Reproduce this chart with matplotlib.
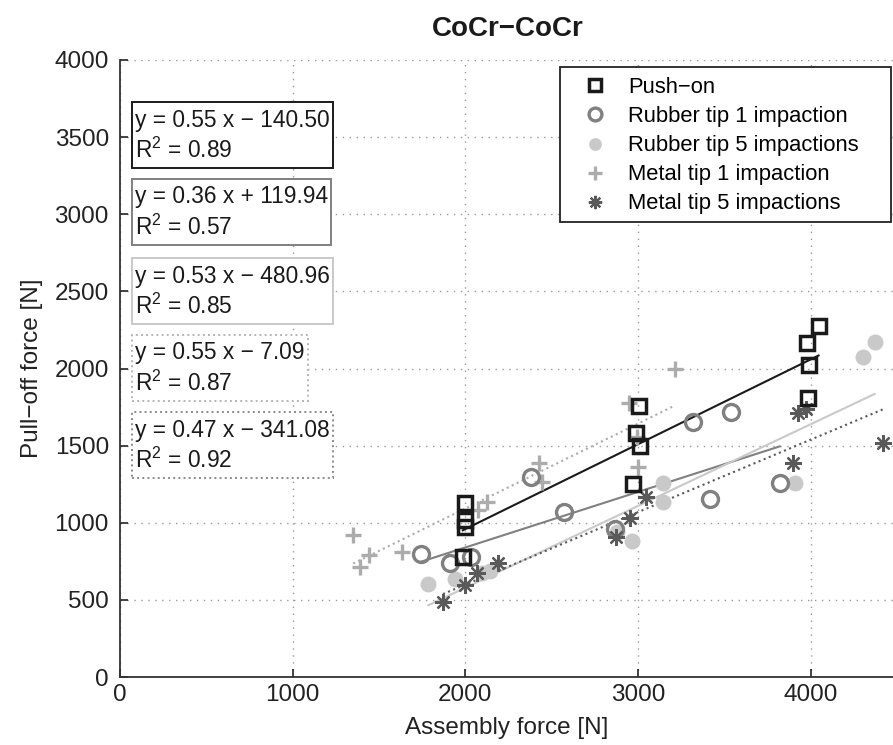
import matplotlib
matplotlib.use('Agg')
import numpy as np
from matplotlib import pyplot as plt
from matplotlib.patches import Rectangle

plt.rcParams['font.family'] = ['Liberation Sans', 'DejaVu Sans']
plt.rcParams['mathtext.fontset'] = 'custom'
plt.rcParams['mathtext.rm'] = 'Liberation Sans'
plt.rcParams['mathtext.it'] = 'Liberation Sans'
plt.rcParams['mathtext.bf'] = 'Liberation Sans:bold'

# assembly force [N] / pull-off force [N] per test group
push_x = [2000, 1995, 2000, 1985, 3005, 2990, 3010, 2970, 4045, 3980, 3990, 3985]
push_y = [1125, 1015, 970, 780, 1760, 1580, 1495, 1250, 2275, 2165, 2025, 1810]

rub1_x = [1745, 1910, 2030, 2380, 2570, 2865, 3320, 3540, 3415, 3820]
rub1_y = [800, 740, 775, 1295, 1070, 960, 1650, 1715, 1155, 1255]

rub5_x = [1785, 1940, 2095, 2140, 2880, 2965, 3145, 3145, 3910, 4300, 4370]
rub5_y = [600, 635, 675, 685, 940, 880, 1255, 1135, 1255, 2075, 2170]

met1_x = [1350, 1390, 1440, 1635, 2075, 2125, 2425, 2445, 2950, 3000, 2995, 3215]
met1_y = [920, 710, 790, 810, 1080, 1135, 1385, 1265, 1775, 1360, 1555, 2000]

met5_x = [1870, 2000, 2065, 2190, 2870, 2955, 3045, 3895, 3925, 3975, 4420]
met5_y = [485, 595, 675, 740, 905, 1030, 1170, 1385, 1710, 1735, 1515]

labels = ['Push\u2212on', 'Rubber tip 1 impaction', 'Rubber tip 5 impactions',
          'Metal tip 1 impaction', 'Metal tip 5 impactions']

# linear fits (slope, intercept, R^2)
fits = [(0.55, -140.50, 0.89), (0.36, 119.94, 0.57), (0.53, -480.96, 0.85),
        (0.55, -7.09, 0.87), (0.47, -341.08, 0.92)]

W, H = 893, 745
fig = plt.figure(figsize=(W/100, H/100), dpi=100)
ax = fig.add_axes([120/W, 1-677/H, 773/W, 617/H])

def fx(px): return px / W
def fy(py): return 1 - py / H

c_push = '#1a1a1a'
c_rub1 = '#808080'
c_rub5 = '#c9c9c9'
c_met1 = '#acacac'
c_met5 = '#5a5a5a'

ax.plot(push_x, push_y, 's', ms=10, mfc='none', mec=c_push, mew=2.5, label=labels[0], zorder=5)
ax.plot(rub1_x, rub1_y, 'o', ms=11.5, mfc='none', mec=c_rub1, mew=2.4, label=labels[1], zorder=4)
ax.plot(rub5_x, rub5_y, 'o', ms=11.5, mfc=c_rub5, mec=c_rub5, mew=0, label=labels[2], zorder=3)
ax.plot(met1_x, met1_y, '+', ms=12, mec=c_met1, mew=2.4, label=labels[3], zorder=3)
ax.plot(met5_x, met5_y, marker=(8, 2, 0), ls='none', ms=12, mec=c_met5, mew=1.6, label=labels[4], zorder=4)

series = [(push_x, c_push, '-'), (rub1_x, c_rub1, '-'), (rub5_x, c_rub5, '-'),
          (met1_x, c_met1, ':'), (met5_x, c_met5, ':')]
for (xs, col, ls), (m, b, r2) in zip(series, fits):
    xx = np.array([min(xs), max(xs)])
    ax.plot(xx, m*xx + b, ls=ls, color=col, lw=1.5, zorder=2)

ax.set_xlim(0, 4476)
ax.set_ylim(0, 4000)
ax.set_xticks([0, 1000, 2000, 3000, 4000])
ax.set_yticks(np.arange(0, 4001, 500))
ax.tick_params(direction='in', length=6, width=1.2, labelsize=17.5, colors='#222222')
ax.tick_params(axis='x', pad=5)
ax.tick_params(axis='y', pad=8)
ax.grid(True, ls=(0, (1, 4)), color='#9a9a9a', lw=1)
ax.set_axisbelow(True)
for s in ['top', 'right']:
    ax.spines[s].set_visible(False)
for s in ['left', 'bottom']:
    ax.spines[s].set_color('#333333')
    ax.spines[s].set_linewidth(1.3)

ax.set_xlabel('Assembly force [N]', fontsize=17.5, color='#222222', labelpad=8)
ax.set_ylabel('Pull\u2212off force [N]', fontsize=17.5, color='#222222', labelpad=8)
fig.text(fx(508), fy(29), 'CoCr\u2212CoCr', fontsize=20, fontweight='bold',
         ha='center', va='center', color='#1a1a1a')

# legend: white framed panel, entries without their own frame
ax.add_patch(Rectangle((fx(560), fy(222)), fx(891) - fx(560), fy(67) - fy(222),
                       transform=fig.transFigure, fc='white', ec='#222222', lw=1.3,
                       clip_on=False, zorder=10))
leg = ax.legend(loc='upper left', bbox_to_anchor=(fx(581), fy(77)),
                bbox_transform=fig.transFigure, borderaxespad=0, borderpad=0,
                fontsize=15.8, handlelength=1.3, handletextpad=0.85,
                labelspacing=0.37, frameon=False, markerscale=0.8)
leg.set_zorder(11)

# equation boxes
box_tops = [102, 179, 258, 335, 412]
box_styles = [(c_push, '-'), (c_rub1, '-'), (c_rub5, '-'), ('#b5b5b5', ':'), ('#8a8a8a', ':')]
fig.canvas.draw()
renderer = fig.canvas.get_renderer()
for top, (m, b, r2), (ec, ls) in zip(box_tops, fits, box_styles):
    sign = '\u2212' if b < 0 else '+'
    t1 = fig.text(fx(135), fy(top + 18), 'y = %.2f x %s %.2f' % (m, sign, abs(b)),
                  fontsize=16.4, ha='left', va='center', color='#1a1a1a', zorder=12)
    t2 = fig.text(fx(135), fy(top + 48), 'R$^2$ = %.2f' % r2,
                  fontsize=16.4, ha='left', va='center', color='#1a1a1a', zorder=12)
    right = max(t1.get_window_extent(renderer).x1, t2.get_window_extent(renderer).x1) + 3
    ax.add_patch(Rectangle((fx(132), fy(top + 66)), right / W - fx(132), 66 / H,
                           transform=fig.transFigure, fc='white', ec=ec, lw=1.4, ls=ls,
                           clip_on=False, zorder=10))

fig.savefig('out.png', dpi=100)
